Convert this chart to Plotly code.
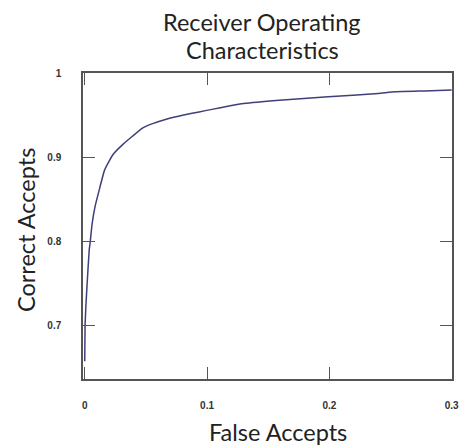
import plotly.graph_objects as go

false_accepts = [0.0, 0.0003, 0.001, 0.002, 0.0037, 0.0044, 0.006, 0.0084, 0.0122, 0.0163,
                 0.023, 0.031, 0.039, 0.0475, 0.0555, 0.066, 0.080, 0.0935, 0.104, 0.118, 0.13,
                 0.159, 0.199, 0.24, 0.254, 0.278, 0.3]
correct_accepts = [0.657, 0.70, 0.724, 0.75, 0.79, 0.798, 0.82, 0.841, 0.863, 0.885,
                   0.903, 0.915, 0.925, 0.935, 0.940, 0.945, 0.950, 0.954, 0.957, 0.961, 0.964,
                   0.968, 0.972, 0.976, 0.978, 0.979, 0.98]

x_ticks = [0, 0.1, 0.2, 0.3]
x_tick_labels = ["0", "0.1", "0.2", "0.3"]
y_ticks = [0.7, 0.8, 0.9, 1.0]
y_tick_labels = ["0.7", "0.8", "0.9", "1"]

title_lines = ["Receiver Operating", "Characteristics"]
x_title = "False Accepts"
y_title = "Correct Accepts"

fig = go.Figure()
fig.add_trace(go.Scatter(x=false_accepts, y=correct_accepts, mode="lines",
                         line=dict(color="#3f3f7a", width=1.5, shape="spline", smoothing=0.4),
                         showlegend=False))

tickfont = dict(family="Liberation Sans, Arial", size=10, color="#333333", weight="bold")
axis_common = dict(showline=True, linecolor="#555555", linewidth=1.5, mirror="ticks",
                   ticks="inside", ticklen=12, tickcolor="#555555", tickwidth=1.2,
                   showgrid=False, zeroline=False, tickfont=tickfont, automargin=False,
                   ticklabeloverflow="allow")

fig.update_xaxes(range=[-0.0014, 0.3003], tickvals=x_ticks, ticktext=x_tick_labels,
                 ticklabelstandoff=16, **axis_common)
fig.update_yaxes(range=[0.636, 1.0003], tickvals=y_ticks, ticktext=y_tick_labels,
                 ticklabelstandoff=18, **axis_common)

W, H = 459, 446
pl, pr, pt, pb = 83, 7, 73, 67
pw, ph = W - pl - pr, H - pt - pb
label_font = dict(family="Lato", size=23.5, color="#222222")


def place(px, py):
    return (px - pl) / pw, 1 - (py - pt) / ph


annotations = []
for text, (px, py), ang in [
    (title_lines[0], (262, 22), 0),
    (title_lines[1], (262, 50), 0),
    (x_title, (278, 432), 0),
    (y_title, (26, 230), -90),
]:
    ax, ay = place(px, py)
    annotations.append(dict(text=text, x=ax, y=ay, xref="paper", yref="paper",
                            showarrow=False, font=label_font, textangle=ang,
                            xanchor="center", yanchor="middle"))

fig.update_layout(
    width=W, height=H,
    margin=dict(l=pl, r=pr, t=pt, b=pb, autoexpand=False),
    paper_bgcolor="white", plot_bgcolor="white",
    annotations=annotations,
)

fig.write_html("out.html", config={"displayModeBar": False},
               post_script="document.body.style.margin='0';")
